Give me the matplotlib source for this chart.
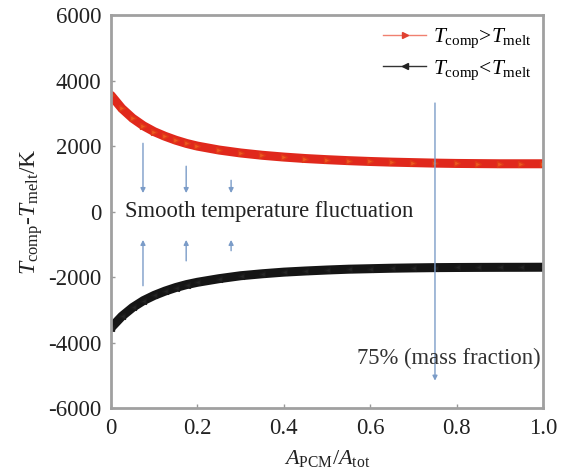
import numpy as np
import matplotlib.pyplot as plt

plt.rcParams['font.family'] = ['Liberation Serif', 'DejaVu Serif']
plt.rcParams['mathtext.fontset'] = 'custom'
plt.rcParams['mathtext.rm'] = 'Liberation Serif'
plt.rcParams['mathtext.it'] = 'Liberation Serif:italic'
plt.rcParams['axes.unicode_minus'] = False

# area ratio A_PCM / A_tot
area_ratio = [0.0, 0.025, 0.05, 0.075, 0.1, 0.125, 0.15, 0.175, 0.2, 0.25,
              0.3, 0.35, 0.4, 0.45, 0.5, 0.55, 0.6, 0.65, 0.7, 0.75,
              0.8, 0.85, 0.9, 0.95, 1.0]
# T_comp - T_melt (K) when component is above melting point
dt_above = [3550, 3150, 2850, 2620, 2440, 2300, 2180, 2080, 2000, 1880,
            1790, 1720, 1665, 1620, 1585, 1555, 1530, 1510, 1495, 1480,
            1470, 1465, 1460, 1460, 1460]
# T_comp - T_melt (K) when component is below melting point
dt_below = [-3550, -3200, -2930, -2720, -2560, -2430, -2320, -2230, -2160, -2050,
            -1960, -1900, -1850, -1815, -1785, -1760, -1745, -1730, -1720, -1712,
            -1708, -1705, -1703, -1702, -1700]

fig = plt.figure(figsize=(5.65, 4.73), dpi=100)
ax = fig.add_axes([0.1965, 0.1374, 0.7645, 0.8306])

ax.plot(area_ratio, dt_above, color='#e0281c', lw=6.5, marker='>', ms=4,
        mfc='#ee5a20', mec='#e03a18', solid_capstyle='round')
ax.plot(area_ratio, dt_below, color='#151515', lw=6.5, marker='<', ms=4,
        mfc='#262626', mec='#1a1a1a', solid_capstyle='round')

# legend entries with thin lines
h1, = ax.plot([], [], color='#f08070', lw=1, marker='>', ms=4,
              mfc='#e04030', mec='#e04030')
h2, = ax.plot([], [], color='#333333', lw=1, marker='<', ms=4,
              mfc='#222222', mec='#222222')
ax.legend([h1, h2],
          [r'$T_{\rm comp}$>$T_{\rm melt}$', r'$T_{\rm comp}$<$T_{\rm melt}$'],
          loc='upper right', frameon=False, fontsize=15.5, handlelength=2.0,
          handletextpad=0.3, labelspacing=0.35, borderaxespad=0.15)

arrow_kw = dict(arrowstyle='-|>', color='#7b9cc8', lw=1.0, mutation_scale=7)
# downward arrows above zero
for x0, y0 in [(0.074, 2170), (0.174, 1470), (0.278, 1040)]:
    ax.annotate('', xy=(x0, 480), xytext=(x0, y0), arrowprops=arrow_kw)
# upward arrows below zero
for x0, y0 in [(0.074, -2350), (0.174, -1590), (0.278, -1280)]:
    ax.annotate('', xy=(x0, -780), xytext=(x0, y0), arrowprops=arrow_kw)
# 75% mass fraction marker
ax.annotate('', xy=(0.75, -5250), xytext=(0.75, 3400), arrowprops=arrow_kw)

ax.text(0.032, 0, 'Smooth temperature fluctuation', fontsize=16.3,
        va='center', ha='left', color='#222222')
ax.text(0.995, -4490, '75% (mass fraction)', fontsize=16.3,
        va='center', ha='right', color='#333333')

ax.set_xlim(0, 1.0)
ax.set_ylim(-6000, 6000)
ax.set_xticks([0, 0.2, 0.4, 0.6, 0.8, 1.0])
ax.set_xticklabels(['0', '0.2', '0.4', '0.6', '0.8', '1.0'])
ax.set_yticks(np.arange(-6000, 6001, 2000))
ax.tick_params(direction='in', length=3, width=1, color='#999999',
               labelsize=16.5, labelcolor='#222222', pad=7)
for s in ax.spines.values():
    s.set_color('#a0a0a0')
    s.set_linewidth(2)

ax.set_xlabel(r'$A_{\rm PCM}/A_{\rm tot}$', fontsize=16, color='#222222', labelpad=7)
ax.set_ylabel(r'$T_{\rm comp}$-$T_{\rm melt}$/K', fontsize=17, color='#222222',
              labelpad=2)

fig.savefig('out.png', dpi=100)
